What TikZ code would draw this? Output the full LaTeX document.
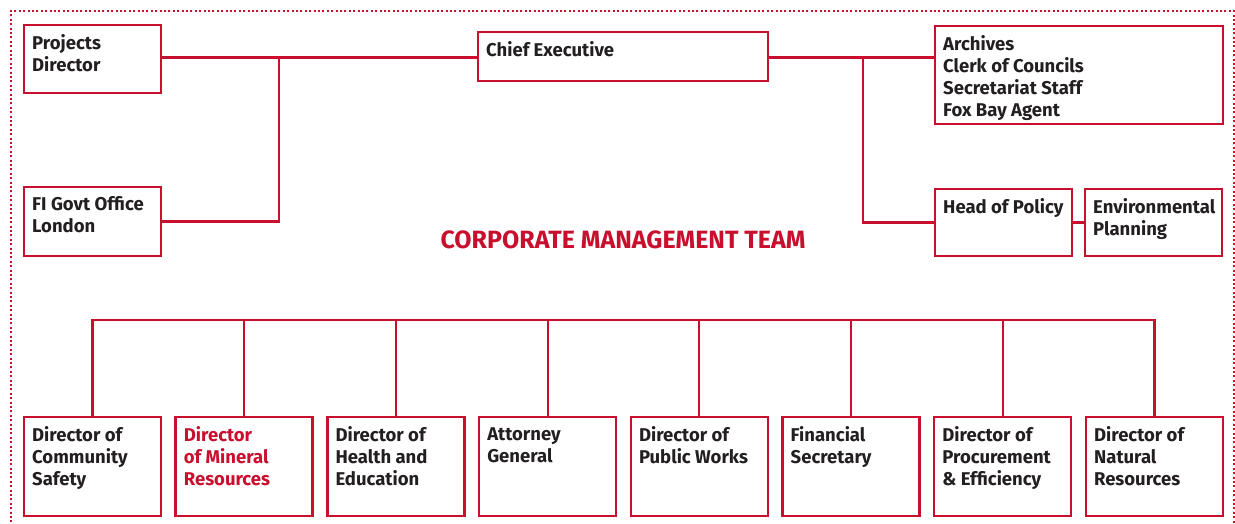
\documentclass[tikz,border=0pt]{standalone}
\usepackage{fontspec}
\setmainfont{Fira Sans}
\usetikzlibrary{positioning}
\definecolor{cmtred}{RGB}{200,16,46}
\definecolor{cmtgrey}{RGB}{35,31,32}
\tikzset{unit/.style={draw=cmtred,line width=2.5pt,rectangle,outer sep=0pt,inner sep=0pt,anchor=north west},
    unittext/.style={anchor=north west,align=left,inner xsep=8pt,inner ysep=9pt,text=cmtgrey,
        font=\bfseries\fontsize{18.5}{22}\selectfont},
    link/.style={draw=cmtred,line width=2.2pt},
    frame/.style={draw=cmtred,line width=2pt,dash pattern=on 2pt off 2.4pt}
}
\newcommand{\orgunit}[7][]
{
% args: ([extra text style], name, x, y, width, height, text)
    \node (#2) [unit,minimum width=#5pt,minimum height=#6pt,
        label={[unittext,#1]north west:{\vphantom{f}#7}}] at (#3,#4) {};
}
\begin{document}
\begin{tikzpicture}[x=1pt,y=-1pt]
\useasboundingbox (0,0) rectangle (1235,524);

\draw [frame] (11,540) -- (11,11) -- (1234,11) -- (1234,540);

% top row

\orgunit{pd}{24}{25}{137}{68}{Projects\\Director}
\orgunit{ce}{478}{32}{290}{49}{Chief Executive}
\orgunit{arch}{935}{26}{288}{98}{Archives\\Clerk of Councils\\Secretariat Staff\\Fox Bay Agent}
\orgunit{fig}{24}{187}{137}{69}{FI Govt Office\\London}
\orgunit{hop}{935}{189}{137}{67}{Head of Policy}
\orgunit{env}{1085}{189}{137}{67}{Environmental\\Planning}

\coordinate (lj) at (279,57.5);
\coordinate (rj) at (863,57.5);

\draw [link] (pd.east |- lj) -- (ce.west |- lj);
\draw [link] (ce.east |- rj) -- (arch.west |- rj);
\draw [link] (lj) |- (fig.east);
\draw [link] (rj) |- (hop.west);
\draw [link] (hop.east) -- (env.west);

\node (cmt) [font=\bfseries\fontsize{25}{29}\selectfont,text=cmtred] at (623,240) {CORPORATE MANAGEMENT TEAM};

% directors

\foreach \i/\c/\t [evaluate=\i as \x using 24+151.7*(\i-1)] in
    {1/cmtgrey/{Director of\\Community\\Safety},
     2/cmtred/{Director\\of Mineral\\Resources},
     3/cmtgrey/{Director of\\Health and\\Education},
     4/cmtgrey/{Attorney\\General},
     5/cmtgrey/{Director of\\Public Works},
     6/cmtgrey/{Financial\\Secretary},
     7/cmtgrey/{Director of\\Procurement\\\& Efficiency},
     8/cmtgrey/{Director of\\Natural\\Resources}}
{
    \orgunit[text=\c]{d\i}{\x}{417}{137}{99}{\t}
}

\coordinate (bus) at (0,320);
\draw [link] (d1.north) -- (d1.north |- bus) -| (d8.north);
\foreach \i in {2,...,7}
    \draw [link] (d\i.north) -- (d\i.north |- bus);

\end{tikzpicture}
\end{document}
